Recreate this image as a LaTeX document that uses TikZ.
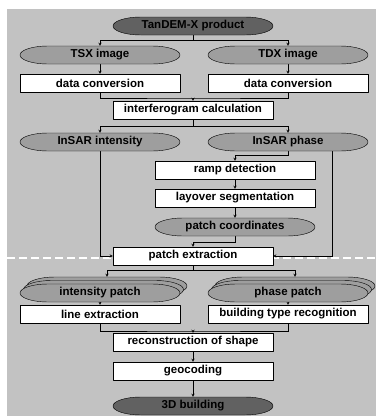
\documentclass[tikz,border=0pt]{standalone}
\usepackage{fontspec}
\setmainfont{Liberation Sans}
\usetikzlibrary{calc}
\pgfdeclarelayer{bg}
\pgfdeclarelayer{lines}
\pgfsetlayers{bg,lines,main}
\definecolor{panel}{gray}{0.76}
\definecolor{darkoval}{gray}{0.38}
\definecolor{midoval}{gray}{0.62}
%Oval with long flat sides: [fill]{name}{position}{text}.
\newcommand{\ovalnode}[4][midoval]{%
	\filldraw[fill=#1] (#3) ++(-52pt,9pt) -- ++(104pt,0pt)
		arc[start angle=90, end angle=-90, x radius=28pt, y radius=9pt] -- ++(-104pt,0pt)
		arc[start angle=270, end angle=90, x radius=28pt, y radius=9pt] -- cycle;
	\node[ovaltext] (#2) at (#3) {#4};}
\begin{document}
\begin{tikzpicture}[x=1pt, y=-1pt, font=\fontsize{11.5}{13}\selectfont\bfseries, line join=round, >=stealth, line width=0.8pt,
	box/.style={draw, fill=white, minimum width=160pt, minimum height=18pt, inner sep=0pt},
	ovaltext/.style={minimum width=160pt, minimum height=18pt, inner sep=0pt}]
	%Set values.
	\def\xl{100};\def\xc{193};\def\xr{288};\def\xm{235};
	%Frame.
	\useasboundingbox (0,0) rectangle (376,416);
	\clip (0,0) rectangle (376,416);
	\begin{pgfonlayer}{bg}
		\fill[panel] (7,9) rectangle (376,416);
		\draw[white, line width=2pt, dash pattern=on 8pt off 4pt] (7,258)--(376,258);
	\end{pgfonlayer}
	%Upper part.
	\ovalnode[darkoval]{prod}{\xc,26}{TanDEM-X product}
	\ovalnode{tsx}{\xl,55}{TSX image}
	\ovalnode{tdx}{\xr,55}{TDX image}
	\node[box] (convl) at (\xl,83) {data conversion};
	\node[box] (convr) at (\xr,83) {data conversion};
	\node[box] (ifg) at (\xc,110) {interferogram calculation};
	\ovalnode{amp}{\xl,142}{InSAR intensity}
	\ovalnode{pha}{\xr,142}{InSAR phase}
	\node[box] (ramp) at (\xm,170) {ramp detection};
	\node[box] (lay) at (\xm,198) {layover segmentation};
	\ovalnode{coord}{\xm,227}{patch coordinates}
	\node[box] (extr) at (\xc,256) {patch extraction};
	%Lower part.
	\foreach \d/\n in {7/3,3.5/2}{
		\ovalnode{ipat\n}{\xl+\d,293-\d}{}
		\ovalnode{ppat\n}{\xr+\d,293-\d}{}
	}
	\ovalnode{ipat}{\xl,293}{intensity patch}
	\ovalnode{ppat}{\xr,293}{phase patch}
	\node[box] (line) at (\xl,314) {line extraction};
	\node[box] (type) at (\xr,314) {building type recognition};
	\node[box] (shape) at (\xc,342) {reconstruction of shape};
	\node[box] (geo) at (\xc,371) {geocoding};
	\ovalnode[darkoval]{bld}{\xc,406}{3D building}
	%Connectors.
	\begin{pgfonlayer}{lines}
		\coordinate (j1) at (\xc,40);
		\coordinate (j2) at (\xc,98);
		\coordinate (j3) at (\xc,126);
		\coordinate (j4) at (\xr,155);
		\coordinate (j5) at (\xm,242);
		\coordinate (j6) at (\xc,270);
		\coordinate (j7) at (\xc,331);
		\draw[->] (prod)--(j1)-|(tsx);
		\draw[->] (j1)-|(tdx);
		\draw[->] (tsx)--(convl);
		\draw[->] (tdx)--(convr);
		\draw (convl.south)|-(j2)-|(convr.south);
		\draw[->] (j2)--(ifg);
		\draw[->] (ifg)--(j3)-|(amp);
		\draw[->] (j3)-|(pha);
		\draw[->] (pha.south)--(j4)-|(ramp);
		\draw[->] (ramp)--(lay);
		\draw[->] (lay)--(coord);
		\draw[->] (coord.south)--(j5)-|(extr);
		\draw[->] (amp.south)|-(extr.west);
		\draw[->] ($(pha.center)+(44,0)$)|-(extr.east);
		\draw (extr)--(j6);
		\draw (j6-|ipat3)--(j6-|ppat3);
		\draw[->] (j6-|ipat3)--(ipat3);
		\draw[->] (j6-|ppat3)--(ppat3);
		\draw[->] (ipat)--(line);
		\draw[->] (ppat)--(type);
		\draw (line.south)|-(j7)-|(type.south);
		\draw[->] (j7)--(shape);
		\draw[->] (shape)--(geo);
		\draw[->] (geo)--(bld);
	\end{pgfonlayer}
\end{tikzpicture}
\end{document}
